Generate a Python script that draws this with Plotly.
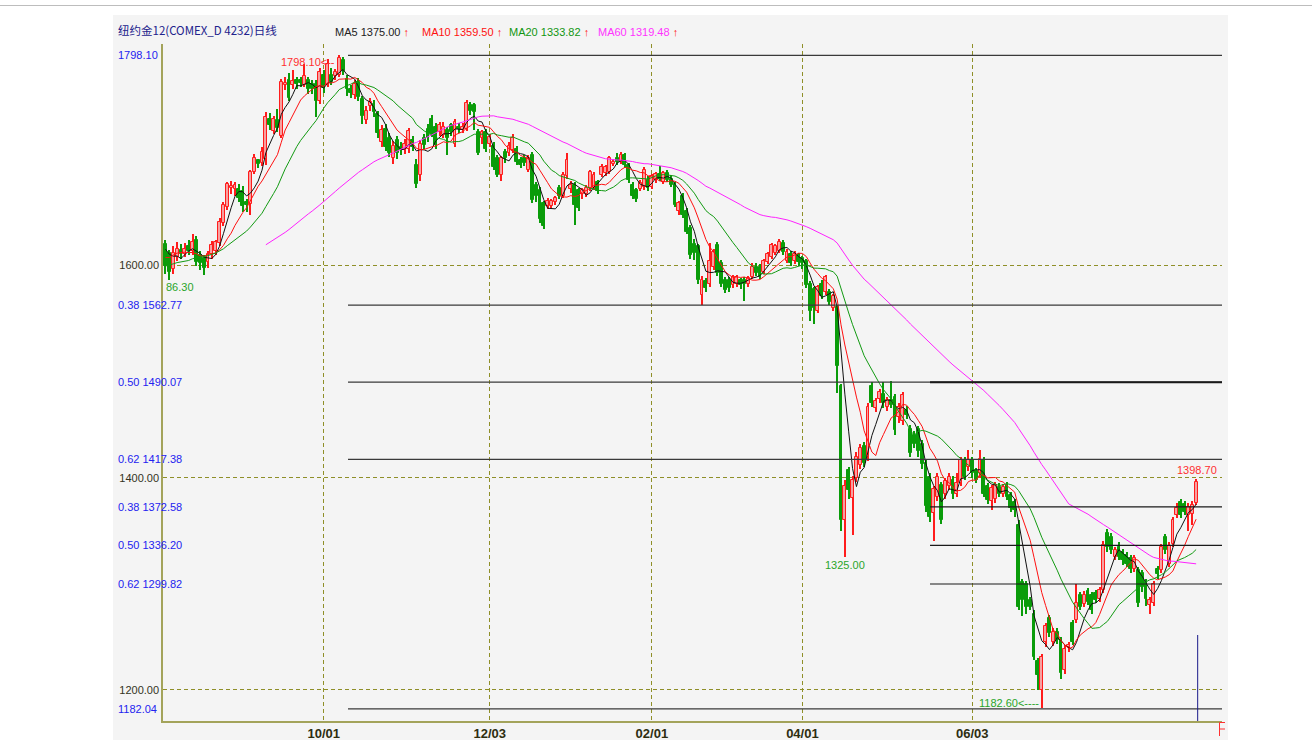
import plotly.graph_objects as go
import pandas as pd

# ---------------- data ----------------
# warm-up closes before the visible window (only feed the moving averages)
pre_closes = [1598, 1604, 1612, 1620, 1609, 1596, 1590, 1585, 1592, 1601, 1610,
              1606, 1598, 1587, 1580, 1584, 1593, 1600, 1604, 1597, 1588, 1582,
              1590, 1596, 1594, 1589, 1598, 1606, 1612, 1618, 1621, 1615, 1623]

opens = [1620, 1612, 1597, 1608, 1615, 1611, 1618, 1614, 1624, 1610, 1607, 1603, 1611, 1614, 1621, 1640, 1655, 1673, 1672, 1672,
         1670, 1660, 1658, 1688, 1699, 1697, 1700, 1738, 1727, 1737, 1722, 1770, 1775, 1770, 1775, 1775, 1770, 1775, 1771, 1771,
         1755, 1780, 1770, 1780, 1779, 1780, 1794, 1776, 1766, 1761, 1773, 1757, 1737, 1750, 1752, 1743, 1716, 1729, 1720, 1701,
         1718, 1712, 1709, 1710, 1718, 1695, 1685, 1720, 1729, 1738, 1731, 1726, 1723, 1728, 1732, 1715, 1731, 1728, 1729, 1751,
         1751, 1726, 1720, 1726, 1715, 1713, 1701, 1685, 1707, 1706, 1709, 1710, 1699, 1701, 1690, 1704, 1676, 1671, 1659, 1656,
         1656, 1660, 1673, 1666, 1684, 1672, 1676, 1671, 1667, 1667, 1673, 1673, 1679, 1685, 1687, 1688, 1696, 1701, 1698, 1704,
         1695, 1676, 1671, 1672, 1674, 1681, 1674, 1681, 1686, 1679, 1687, 1682, 1677, 1651, 1666, 1651, 1635, 1620, 1618, 1572,
         1585, 1583, 1599, 1619, 1602, 1586, 1586, 1582, 1583, 1586, 1586, 1583, 1589, 1599, 1599, 1594, 1603, 1608, 1612, 1614,
         1621, 1604, 1611, 1604, 1610, 1607, 1604, 1583, 1578, 1557, 1583, 1575, 1575, 1560, 1561, 1486, 1360, 1407, 1381, 1400,
         1412, 1430, 1420, 1486, 1466, 1474, 1479, 1467, 1473, 1476, 1457, 1453, 1464, 1446, 1440, 1446, 1432, 1414, 1401, 1367,
         1382, 1393, 1385, 1392, 1398, 1385, 1395, 1417, 1410, 1417, 1406, 1404, 1417, 1392, 1378, 1380, 1391, 1385, 1393, 1384,
         1377, 1355, 1302, 1300, 1285, 1272, 1227, 1200, 1245, 1268, 1245, 1255, 1247, 1219, 1240, 1263, 1266, 1289, 1281, 1293,
         1289, 1291, 1286, 1294, 1348, 1344, 1325, 1335, 1330, 1327, 1324, 1314, 1313, 1310, 1302, 1280, 1282, 1314, 1313, 1344,
         1319, 1338, 1365, 1377, 1375, 1365, 1366, 1376]

highs = [1624, 1615, 1618, 1622, 1620, 1621, 1624, 1630, 1628, 1614, 1610, 1614, 1623, 1624, 1645, 1660, 1679, 1680, 1679, 1677,
         1675, 1663, 1690, 1705, 1700, 1712, 1745, 1744, 1741, 1748, 1776, 1778, 1781, 1784, 1778, 1778, 1790, 1778, 1775, 1775,
         1786, 1784, 1795, 1786, 1785, 1798.1, 1797, 1780, 1770, 1775, 1777, 1760, 1750, 1758, 1756, 1746, 1732, 1733, 1725, 1717,
         1722, 1716, 1719, 1730, 1722, 1700, 1718, 1724, 1733, 1742, 1734, 1735, 1735, 1731, 1734, 1738, 1734, 1734, 1756, 1754,
         1753, 1729, 1728, 1729, 1724, 1716, 1704, 1703, 1710, 1716, 1724, 1713, 1702, 1704, 1704, 1707, 1679, 1674, 1661, 1664,
         1663, 1666, 1676, 1688, 1706, 1680, 1679, 1673, 1673, 1676, 1690, 1688, 1681, 1696, 1695, 1703, 1700, 1706, 1707, 1706,
         1697, 1679, 1673, 1681, 1693, 1684, 1686, 1688, 1694, 1689, 1690, 1685, 1679, 1661, 1668, 1654, 1638, 1625, 1620, 1590,
         1588, 1621, 1616, 1622, 1605, 1589, 1589, 1591, 1591, 1588, 1589, 1590, 1602, 1602, 1601, 1606, 1613, 1621, 1620, 1625,
         1624, 1616, 1614, 1614, 1612, 1609, 1606, 1585, 1580, 1582, 1586, 1591, 1578, 1573, 1563, 1488, 1398, 1410, 1402, 1424,
         1432, 1434, 1470, 1490, 1475, 1484, 1490, 1476, 1491, 1479, 1470, 1481, 1468, 1450, 1444, 1449, 1436, 1417, 1404, 1392,
         1404, 1396, 1400, 1404, 1402, 1404, 1420, 1420, 1426, 1420, 1409, 1426, 1420, 1395, 1393, 1396, 1395, 1394, 1396, 1387,
         1380, 1360, 1305, 1303, 1288, 1275, 1230, 1234, 1263, 1271, 1258, 1258, 1250, 1242, 1245, 1266, 1300, 1292, 1293, 1296,
         1292, 1294, 1297, 1340, 1352, 1348, 1335, 1339, 1333, 1330, 1327, 1327, 1316, 1313, 1305, 1288, 1303, 1317, 1338, 1347,
         1339, 1363, 1376, 1380, 1378, 1376, 1378, 1398.7]

lows = [1592, 1586.3, 1592, 1604, 1606, 1608, 1610, 1610, 1600, 1596, 1591, 1598, 1606, 1610, 1618, 1637, 1652, 1667, 1666, 1660,
        1650, 1650, 1648, 1686, 1692, 1694, 1695, 1728, 1724, 1726, 1720, 1765, 1755, 1766, 1766, 1768, 1768, 1762, 1762, 1740,
        1752, 1763, 1768, 1770, 1775, 1778, 1780, 1760, 1758, 1757, 1755, 1733, 1733, 1746, 1740, 1720, 1712, 1708, 1702, 1696,
        1700, 1704, 1705, 1706, 1708, 1673, 1680, 1710, 1716, 1721, 1710, 1722, 1720, 1704, 1722, 1712, 1725, 1725, 1727, 1742,
        1728, 1704, 1715, 1707, 1712, 1690, 1683, 1680, 1697, 1703, 1706, 1695, 1692, 1694, 1688, 1659, 1660, 1640, 1634, 1653,
        1654, 1657, 1663, 1664, 1682, 1668, 1638, 1651, 1663, 1665, 1670, 1671, 1667, 1683, 1684, 1686, 1694, 1695, 1696, 1692,
        1678, 1663, 1660, 1670, 1671, 1670, 1672, 1678, 1680, 1677, 1679, 1674, 1655, 1648, 1645, 1630, 1606, 1605, 1583, 1563,
        1575, 1580, 1596, 1590, 1580, 1574, 1575, 1579, 1580, 1578, 1567, 1580, 1587, 1590, 1587, 1592, 1601, 1606, 1610, 1612,
        1610, 1602, 1600, 1601, 1600, 1597, 1579, 1548, 1545, 1555, 1568, 1572, 1563, 1557, 1480, 1350, 1325, 1380, 1346, 1396,
        1408, 1410, 1416, 1467, 1462, 1470, 1466, 1463, 1466, 1440, 1452, 1450, 1455, 1420, 1428, 1420, 1408, 1368, 1358, 1340,
        1378, 1356, 1380, 1388, 1380, 1382, 1392, 1398, 1406, 1400, 1395, 1400, 1382, 1375, 1370, 1376, 1382, 1382, 1379, 1368,
        1363, 1275, 1270, 1272, 1275, 1228, 1200, 1182.6, 1240, 1250, 1241, 1243, 1210, 1215, 1236, 1242, 1263, 1275, 1278, 1280,
        1272, 1282, 1283, 1291, 1330, 1328, 1322, 1322, 1318, 1316, 1310, 1311, 1278, 1292, 1279, 1272, 1279, 1305, 1310, 1328,
        1316, 1335, 1362, 1362, 1365, 1350, 1355, 1374]

closes = [1600, 1594, 1612, 1616, 1611, 1616, 1614, 1622, 1603, 1602, 1598, 1611, 1619, 1622, 1641, 1657, 1677, 1675, 1676, 1664,
          1656, 1657, 1688, 1701, 1696, 1707, 1740, 1732, 1738, 1730, 1773, 1772, 1758, 1774, 1771, 1772, 1779, 1766, 1766, 1755,
          1782, 1767, 1790, 1773, 1782, 1796, 1783, 1766, 1763, 1771, 1759, 1741, 1746, 1754, 1745, 1725, 1728, 1712, 1706, 1713,
          1706, 1709, 1715, 1727, 1712, 1677, 1715, 1714, 1720, 1724, 1714, 1732, 1731, 1720, 1726, 1735, 1729, 1731, 1753, 1746,
          1745, 1706, 1726, 1710, 1721, 1693, 1685, 1701, 1701, 1713, 1720, 1698, 1695, 1697, 1701, 1662, 1666, 1644, 1637, 1661,
          1661, 1664, 1666, 1685, 1699, 1676, 1657, 1654, 1671, 1673, 1688, 1685, 1670, 1693, 1693, 1701, 1698, 1698, 1704, 1695,
          1681, 1666, 1663, 1678, 1690, 1673, 1684, 1686, 1682, 1687, 1681, 1676, 1657, 1659, 1648, 1632, 1610, 1612, 1586, 1586,
          1579, 1604, 1613, 1593, 1583, 1577, 1579, 1589, 1589, 1582, 1583, 1588, 1599, 1593, 1589, 1604, 1611, 1619, 1618, 1622,
          1613, 1613, 1602, 1611, 1603, 1602, 1582, 1557, 1560, 1580, 1571, 1589, 1566, 1571, 1505, 1360, 1392, 1388, 1398, 1420,
          1428, 1414, 1467, 1470, 1472, 1481, 1470, 1473, 1469, 1445, 1467, 1478, 1459, 1423, 1432, 1425, 1413, 1373, 1363, 1389,
          1401, 1360, 1397, 1401, 1385, 1395, 1417, 1401, 1417, 1404, 1398, 1418, 1385, 1379, 1390, 1393, 1385, 1391, 1382, 1371,
          1370, 1278, 1285, 1278, 1278, 1231, 1214, 1231, 1260, 1254, 1255, 1247, 1216, 1239, 1242, 1245, 1282, 1278, 1289, 1283,
          1275, 1285, 1294, 1337, 1335, 1332, 1332, 1325, 1322, 1319, 1314, 1324, 1282, 1297, 1286, 1285, 1300, 1309, 1335, 1332,
          1336, 1360, 1371, 1365, 1368, 1372, 1374, 1396]

date_ticks = ["10/01", "12/03", "02/01", "04/01", "06/03"]
date_tick_bars = [41, 84, 126, 165, 209]

grid_prices = [1200, 1400, 1600]
grid_texts = ["1200.00", "1400.00", "1600.00"]

fib_set_a = [1798.10, 1562.77, 1490.07, 1417.38, 1182.04]
fib_set_b = [1490.07, 1372.58, 1336.20, 1299.82]
fib_label_texts = ["1798.10", "0.38 1562.77", "0.50 1490.07", "0.62 1417.38",
                   "0.38 1372.58", "0.50 1336.20", "0.62 1299.82", "1182.04"]
fib_label_prices = [1798.10, 1562.77, 1490.07, 1417.38, 1372.58, 1336.20, 1299.82, 1182.04]

ma_periods = [5, 10, 20, 60]
ma_legend = ["MA5 1375.00", "MA10 1359.50", "MA20 1333.82", "MA60 1319.48"]
title_text = "纽约金12(COMEX_D 4232)日线"

high_label, high_bar = "1798.10", 45
april_low_label, april_low_bar = "1325.00", 176
june_low_label, june_low_bar = "1182.60", 227
last_label = "1398.70"
start_low_label = "86.30"

# ---------------- layout constants ----------------
W, H = 1312, 747
PLOT_L, PLOT_R, PLOT_T, PLOT_B = 163, 1222, 44, 721
ML, MR, MT, MB = PLOT_L, W - PLOT_R, PLOT_T, H - PLOT_B
PW, PH = PLOT_R - PLOT_L, PLOT_B - PLOT_T
X_RANGE = [-0.65, 273.7]
Y_RANGE = [1170.7, 1808.8]

UP_LINE, UP_FILL = "#ff1c1c", "#f7a0a0"
DN = "#0a9c0a"
MA_COLORS = ["#111111", "#ff1010", "#129a12", "#ff22ff"]
LEGEND_COLORS = ["#222222", "#ff1010", "#119611", "#ff33ff"]
OLIVE = "#8f8f28"
BLUE = "#2323f0"
FONT = "Liberation Sans, Arial, sans-serif"


def px_x(px):
    return (px - PLOT_L) / PW


def px_y(py):
    return (PLOT_B - py) / PH


n = len(closes)
idx = list(range(n))
up = [c >= o for o, c in zip(opens, closes)]

fig = go.Figure()

# wicks (thin bars)
for flag, col in ((True, UP_LINE), (False, DN)):
    sel = [i for i in idx if up[i] == flag]
    fig.add_trace(go.Bar(
        x=sel, base=[lows[i] for i in sel], y=[highs[i] - lows[i] for i in sel],
        width=0.27, marker=dict(color=col, line=dict(width=0)), hoverinfo="skip"))

# bodies
for flag, fill, edge in ((True, UP_FILL, UP_LINE), (False, DN, DN)):
    sel = [i for i in idx if up[i] == flag]
    fig.add_trace(go.Bar(
        x=sel, base=[min(opens[i], closes[i]) for i in sel],
        y=[max(abs(closes[i] - opens[i]), 0.6) for i in sel],
        width=0.74, marker=dict(color=fill, line=dict(color=edge, width=1)),
        hoverinfo="skip"))

# moving averages
full = pd.Series(pre_closes + closes, dtype=float)
k = len(pre_closes)
for p, col in zip(ma_periods, MA_COLORS):
    ma = full.rolling(p).mean().iloc[k:].tolist()
    fig.add_trace(go.Scatter(x=idx, y=ma, mode="lines",
                             line=dict(color=col, width=1), hoverinfo="skip"))

shapes = []
# grey panel + top rule
shapes.append(dict(type="rect", xref="paper", yref="paper",
                   x0=px_x(113), x1=px_x(1228), y0=px_y(740), y1=px_y(15),
                   fillcolor="#f4f4f4", line=dict(width=0), layer="below"))
shapes.append(dict(type="line", xref="paper", yref="paper",
                   x0=px_x(0), x1=px_x(1312), y0=px_y(5.5), y1=px_y(5.5),
                   line=dict(color="#bdbdbd", width=1)))
# fibonacci lines
x_a = (348 - 165.5) / 3.86
x_b = (930 - 165.5) / 3.86
for lv in fib_set_a:
    shapes.append(dict(type="line", xref="x", yref="y", x0=x_a, x1=X_RANGE[1],
                       y0=lv, y1=lv, line=dict(color="#3a3a3a", width=1.2)))
for j, lv in enumerate(fib_set_b):
    shapes.append(dict(type="line", xref="x", yref="y", x0=x_b, x1=X_RANGE[1],
                       y0=lv, y1=lv, line=dict(color="#1a1a1a", width=2 if j == 0 else 1.2)))
# cursor line
shapes.append(dict(type="line", xref="x", yref="paper", x0=n - 1 + 0.4, x1=n - 1 + 0.4,
                   y0=0, y1=px_y(635), line=dict(color="#1a1a8a", width=1)))
# small red scroll marker at the bottom-right corner
mx0, mx1 = px_x(1219.5), px_x(1225)
shapes.append(dict(type="path", xref="paper", yref="paper",
                   path=f"M{mx1},{px_y(722.5)} L{mx0},{px_y(722.5)} L{mx0},{px_y(736)} "
                        f"M{mx0},{px_y(729)} L{mx1},{px_y(729)}",
                   line=dict(color="#ff3030", width=1)))

ann = []
ann.append(dict(text=title_text, x=px_x(116), y=px_y(30), xanchor="left", yanchor="middle",
                font=dict(family="Noto Sans CJK SC", size=11.5, color="#22228c")))
leg_x = [333, 420, 507, 596]
for t, c, lx in zip(ma_legend, LEGEND_COLORS, leg_x):
    ann.append(dict(text=t + " <span style='color:#ff2020'>↑</span>", x=px_x(lx), y=px_y(32),
                    xanchor="left", yanchor="middle", font=dict(family=FONT, size=11, color=c)))
for t, lv in zip(fib_label_texts, fib_label_prices):
    ann.append(dict(text=t, x=px_x(116), y=lv, yref="y", xanchor="left", yanchor="middle",
                    font=dict(family=FONT, size=11, color=BLUE)))
# price marks
ann.append(dict(text=high_label + "<--", x=high_bar - 0.6, y=highs[high_bar] - 6.6, xref="x", yref="y",
                xanchor="right", yanchor="middle", font=dict(family=FONT, size=11, color="#ff3030")))
ann.append(dict(text=april_low_label, x=april_low_bar, y=lows[april_low_bar] - 7.5, xref="x", yref="y",
                xanchor="center", yanchor="middle", font=dict(family=FONT, size=11, color="#2aa52a")))
ann.append(dict(text=june_low_label + "<----", x=june_low_bar - 0.3, y=lows[june_low_bar] + 5.5, xref="x",
                yref="y", xanchor="right", yanchor="middle", font=dict(family=FONT, size=11, color="#2aa52a")))
ann.append(dict(text=last_label, x=n - 1 + 0.2, y=highs[-1] + 8.5, xref="x", yref="y",
                xanchor="center", yanchor="middle", font=dict(family=FONT, size=11, color="#ff3030")))
ann.append(dict(text=start_low_label, x=px_x(164), y=lows[1] - 6.6, yref="y", xanchor="left",
                yanchor="middle", font=dict(family=FONT, size=11, color="#2aa52a")))
for a in ann:
    a.setdefault("xref", "paper")
    a.setdefault("yref", "paper")
    a["showarrow"] = False

fig.update_layout(
    width=W, height=H, autosize=False, margin=dict(l=ML, r=MR, t=MT, b=MB, pad=0, autoexpand=False),
    paper_bgcolor="#ffffff", plot_bgcolor="#f4f4f4",
    barmode="overlay", bargap=0, showlegend=False, hovermode=False,
    shapes=shapes, annotations=ann,
    xaxis=dict(range=X_RANGE, tickmode="array", tickvals=date_tick_bars,
               ticktext=[f"<b>{t}</b>" for t in date_ticks], automargin=False,
               tickfont=dict(family=FONT, size=13, color="#2d2d10"), ticks="",
               showgrid=True, gridcolor=OLIVE, griddash="4px,3px", gridwidth=1,
               showline=True, linecolor="#a3a35a", linewidth=1.5, zeroline=False),
    yaxis=dict(range=Y_RANGE, tickmode="array", tickvals=grid_prices, ticktext=grid_texts,
               automargin=False,
               tickfont=dict(family=FONT, size=11, color="#333322"), ticks="",
               showgrid=True, gridcolor=OLIVE, griddash="4px,3px", gridwidth=1,
               showline=True, linecolor="#a3a35a", linewidth=1.5, zeroline=False),
)

fig.write_html("out.html", config={"displayModeBar": False, "responsive": False},
               post_script="document.body.style.margin='0';document.body.style.overflow='hidden';")
